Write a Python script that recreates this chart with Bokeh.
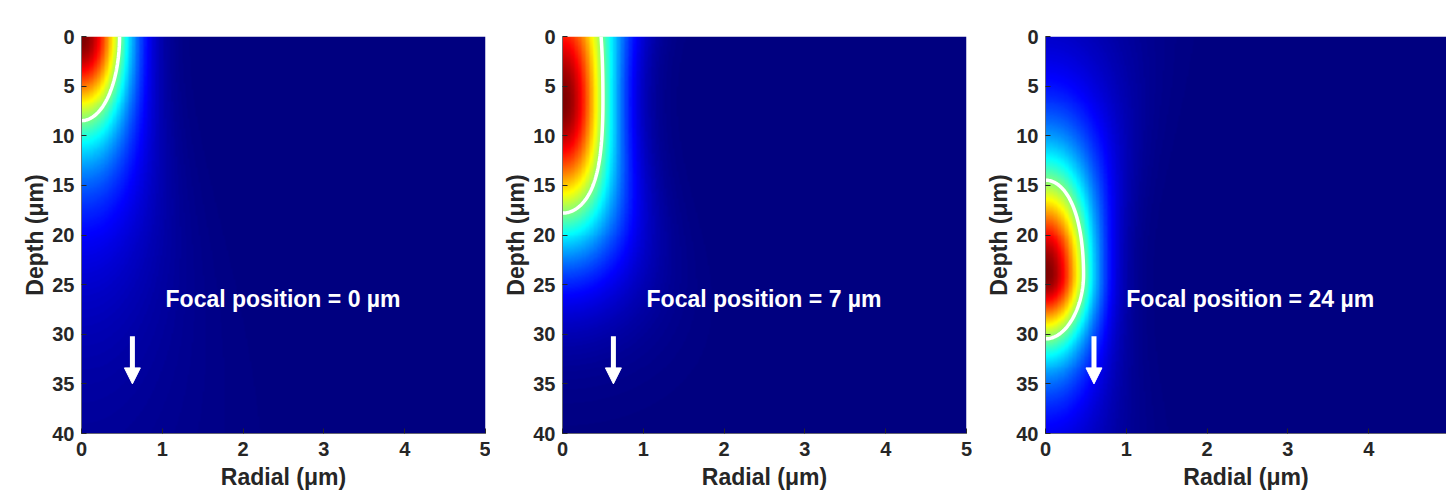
import numpy as np
from bokeh.plotting import figure
from bokeh.layouts import row
from bokeh.models import Range1d, LinearColorMapper, Arrow, NormalHead, FixedTicker, ColumnDataSource
from bokeh.core.properties import value
from bokeh.embed import file_html
from bokeh.resources import INLINE

# ---- data ----
focal_um = [0, 7, 24]
panel_labels = ["Focal position = 0 µm", "Focal position = 7 µm", "Focal position = 24 µm"]
peak_depth = [0.0, 6.5, 24.0]          # depth of on-axis intensity maximum (µm)
waist_um = [0.80, 0.85, 0.80]          # beam radius at the peak (µm)
spread_um = [15.0, 15.0, 15.0]         # depth scale of the radial widening (µm)
decay_above = [10.1, 15.5, 14.8]       # axial decay length above the peak (µm)
power_above = [1.3, 1.0, 2.0]
decay_below = [10.1, 95.6, 7.7]        # axial decay length below the peak (µm)
power_below = [1.3, 50.0, 1.3]
contour_level = [0.5]

x_ticks = [0, 1, 2, 3, 4, 5]
y_ticks = [0, 5, 10, 15, 20, 25, 30, 35, 40]
radial_max = 5.0
depth_max = 40.0

label_x = [1.04, 1.04, 1.0]
label_y = [26.4, 26.4, 26.4]
arrow_x = [0.63, 0.63, 0.60]
arrow_y0 = [30.2, 30.2, 30.2]
arrow_y1 = [35.0, 35.0, 35.0]

# ---- jet palette ----
def jet(n=256):
    out = []
    for i in range(n):
        t = i / (n - 1)
        r = min(max(1.5 - abs(4 * t - 3), 0), 1)
        g = min(max(1.5 - abs(4 * t - 2), 0), 1)
        b = min(max(1.5 - abs(4 * t - 1), 0), 1)
        out.append("#%02x%02x%02x" % (int(round(r * 255)), int(round(g * 255)), int(round(b * 255))))
    return out

JET = jet()
FONT = "Liberation Sans"
TXT = "#262626"

nx, nz = 300, 400
rr = np.linspace(0, radial_max, nx)
zz = np.linspace(0, depth_max, nz)
R, Z = np.meshgrid(rr, zz)


def field(i):
    dz = Z - peak_depth[i]
    a = np.where(dz < 0, decay_above[i], decay_below[i])
    p = np.where(dz < 0, power_above[i], power_below[i])
    axial = (1 + (dz / a) ** 2) ** (-p)
    w2 = waist_um[i] ** 2 * (1 + (dz / spread_um[i]) ** 2)
    I = axial * np.exp(-2 * R ** 2 / w2)
    return I / I.max()


FRAME = 404
widths = [490, 482, 474]
borders_left = [81, 72, 73]
borders_right = [5, 6, 0]
figs = []
for i in range(3):
    xr_end = radial_max * (widths[i] - borders_left[i] - borders_right[i]) / FRAME
    p = figure(width=widths[i], height=492, output_backend="svg", toolbar_location=None,
               x_range=Range1d(0, xr_end), y_range=Range1d(depth_max, 0),
               min_border_left=borders_left[i], min_border_right=borders_right[i],
               min_border_top=36, min_border_bottom=56)
    I = field(i)
    mapper = LinearColorMapper(palette=JET, low=0, high=1)
    p.image(image=[I], x=0, y=0, dw=radial_max, dh=depth_max, color_mapper=mapper)
    p.contour(x=rr, y=zz, z=I, levels=contour_level, line_color="white", line_width=3.5)

    src = ColumnDataSource(dict(x=[label_x[i]], y=[label_y[i]], t=[panel_labels[i]]))
    p.text(x="x", y="y", text="t", source=src, text_color="white",
           text_font=value(FONT), text_font_style="bold", text_font_size="23px",
           text_baseline="middle", text_align="left")

    p.add_layout(Arrow(end=NormalHead(size=16, fill_color="white", line_color="white"),
                       x_start=arrow_x[i], y_start=arrow_y0[i],
                       x_end=arrow_x[i], y_end=arrow_y1[i],
                       line_color="white", line_width=5))

    p.grid.visible = False
    p.outline_line_color = None
    p.xaxis.ticker = FixedTicker(ticks=x_ticks)
    p.yaxis.ticker = FixedTicker(ticks=y_ticks)
    p.xaxis.axis_label = "Radial (μm)"
    p.yaxis.axis_label = "Depth (μm)"
    for ax in (p.xaxis[0], p.yaxis[0]):
        ax.major_label_text_font = FONT
        ax.major_label_text_font_style = "bold"
        ax.major_label_text_font_size = "20px"
        ax.major_label_text_color = TXT
        ax.axis_label_text_font = FONT
        ax.axis_label_text_font_style = "bold"
        ax.axis_label_text_font_size = "23px"
        ax.axis_label_text_color = TXT
        ax.major_tick_in = 5
        ax.major_tick_out = 0
        ax.major_tick_line_color = TXT
        ax.minor_tick_line_color = None
        ax.axis_line_color = TXT
        ax.axis_line_width = 0.6
    p.xaxis.major_label_standoff = 8
    p.yaxis.major_label_standoff = 7
    p.xaxis.axis_label_standoff = 5
    p.yaxis.axis_label_standoff = 1
    figs.append(p)

layout = row(*figs)
open("out.html", "w").write(file_html(layout, INLINE))
